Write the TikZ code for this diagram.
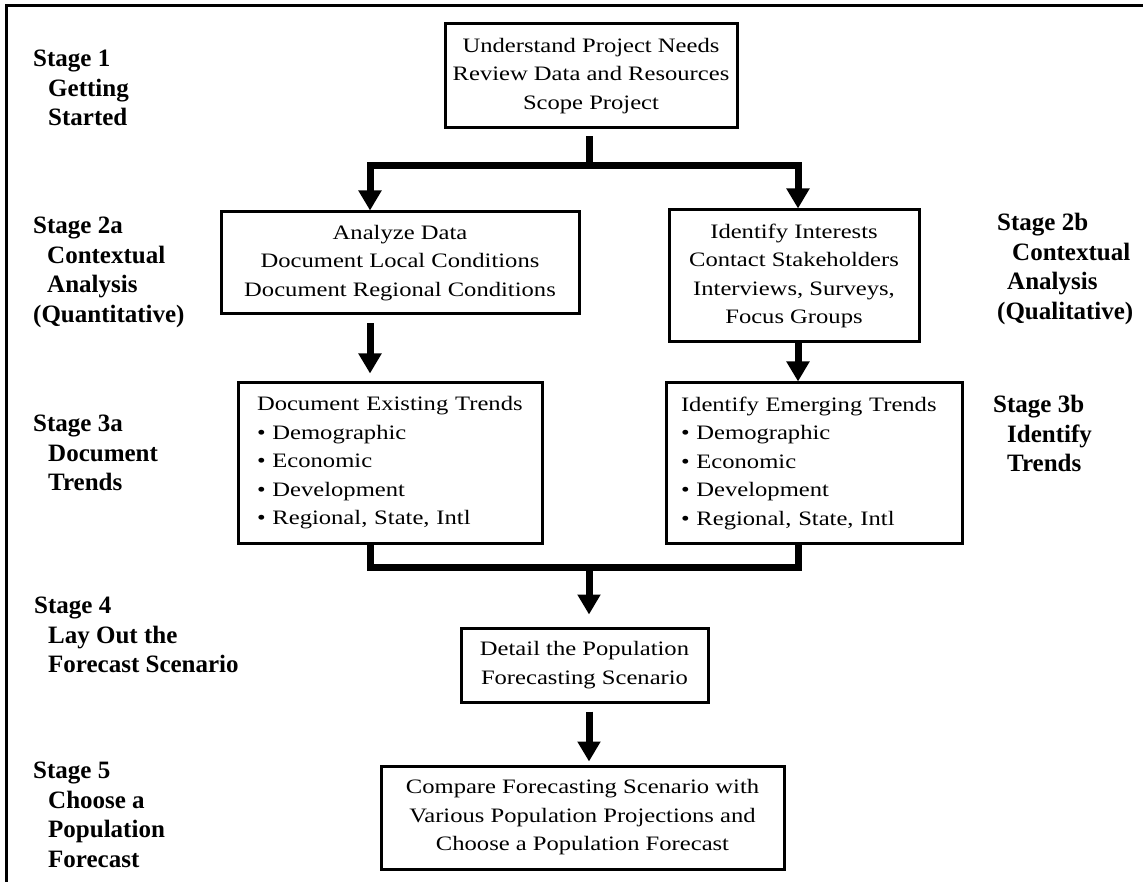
\documentclass[tikz,border=0pt]{standalone}
\usepackage{fontspec}
\setmainfont{Liberation Serif}
\newfontfamily\boxfont[FakeStretch=1.2]{Liberation Serif}
\usepackage{tikz}
\usetikzlibrary{arrows.meta}
\usetikzlibrary{positioning,calc}

\begin{document}
\begin{tikzpicture}[
x=1pt, y=-1pt,
StageBox/.style={draw=black, line width=3pt, align=center, inner sep=0pt,
  font=\boxfont\fontsize{20.5}{28.5}\selectfont},
TrendBox/.style={StageBox, align=left, text width=266pt},
StageLabel/.style={anchor=north west, inner sep=0pt, align=left,
  font=\bfseries\fontsize{25}{29.5}\selectfont},
FlowLine/.style={draw=black, line width=7pt},
FlowArrow/.style={FlowLine, -{Triangle[width=22pt,length=20pt]}}
]

\useasboundingbox (0,0) rectangle (1143,882);

% frame (cut at right and bottom)
\draw[line width=3pt] (6,882) -- (6,6) -- (1143,6);

% the boxes
\node[StageBox, minimum width=292pt, minimum height=104pt] (needs) at (591,76)
  {Understand Project Needs\\Review Data and Resources\\Scope Project};

\node[StageBox, minimum width=358pt, minimum height=102pt] (analyze) at (400,263)
  {Analyze Data\\Document Local Conditions\\Document Regional Conditions};

\node[StageBox, minimum width=250pt, minimum height=132pt] (interests) at (794,276)
  {Identify Interests\\Contact Stakeholders\\Interviews, Surveys,\\Focus Groups};

\node[TrendBox, minimum width=304pt, minimum height=160pt] (existing) at (390,463)
  {Document Existing Trends\\\textbullet\ Demographic\\\textbullet\ Economic\\\textbullet\ Development\\\textbullet\ Regional, State, Intl};

\node[TrendBox, minimum width=296pt, minimum height=160pt] (emerging) at (814,463)
  {Identify Emerging Trends\\\textbullet\ Demographic\\\textbullet\ Economic\\\textbullet\ Development\\\textbullet\ Regional, State, Intl};

\node[StageBox, minimum width=247pt, minimum height=74pt] (detail) at (584.5,665)
  {Detail the Population\\Forecasting Scenario};

\node[StageBox, minimum width=403pt, minimum height=103pt] (compare) at (582.5,817.5)
  {Compare Forecasting Scenario with\\Various Population Projections and\\Choose a Population Forecast};

% stage labels
\node[StageLabel] (stageA) at (33,50) {Stage 1\\\hspace*{15pt}Getting\\\hspace*{15pt}Started};
\node[StageLabel] (stageB) at (33,217) {Stage 2a\\\hspace*{14pt}Contextual\\\hspace*{14pt}Analysis\\(Quantitative)};
\node[StageLabel] (stageC) at (33,415) {Stage 3a\\\hspace*{15pt}Document\\\hspace*{15pt}Trends};
\node[StageLabel] (stageD) at (34,597) {Stage 4\\\hspace*{14pt}Lay Out the\\\hspace*{14pt}Forecast Scenario};
\node[StageLabel] (stageE) at (33,762) {Stage 5\\\hspace*{15pt}Choose a\\\hspace*{15pt}Population\\\hspace*{15pt}Forecast};
\node[StageLabel] (stageF) at (997,213) {Stage 2b\\\hspace*{15pt}Contextual\\\hspace*{10pt}Analysis\\(Qualitative)};
\node[StageLabel] (stageG) at (993,395) {Stage 3b\\\hspace*{14pt}Identify\\\hspace*{14pt}Trends};

% connectors
\coordinate (Split) at (589,166);
\coordinate (Merge) at (589,567);
\coordinate (ColL) at (370,0);
\coordinate (ColR) at (798,0);

\draw[FlowLine, shorten <=7pt] (needs.south -| Split) -- (Split);
\draw[FlowArrow] (Split) -| (ColL |- analyze.north);
\draw[FlowArrow] (Split) -| (ColR |- interests.north);

\draw[FlowArrow, shorten <=8pt, shorten >=8pt] (ColL |- analyze.south) -- (ColL |- existing.north);
\draw[FlowArrow] (ColR |- interests.south) -- (ColR |- emerging.north);

\draw[FlowLine] (ColL |- existing.south) |- (Merge) -| (ColR |- emerging.south);
\draw[FlowArrow, shorten >=12pt] (Merge) -- (Merge |- detail.north);
\draw[FlowArrow, shorten <=8pt, shorten >=3pt] (Merge |- detail.south) -- (Merge |- compare.north);

\end{tikzpicture}
\end{document}
